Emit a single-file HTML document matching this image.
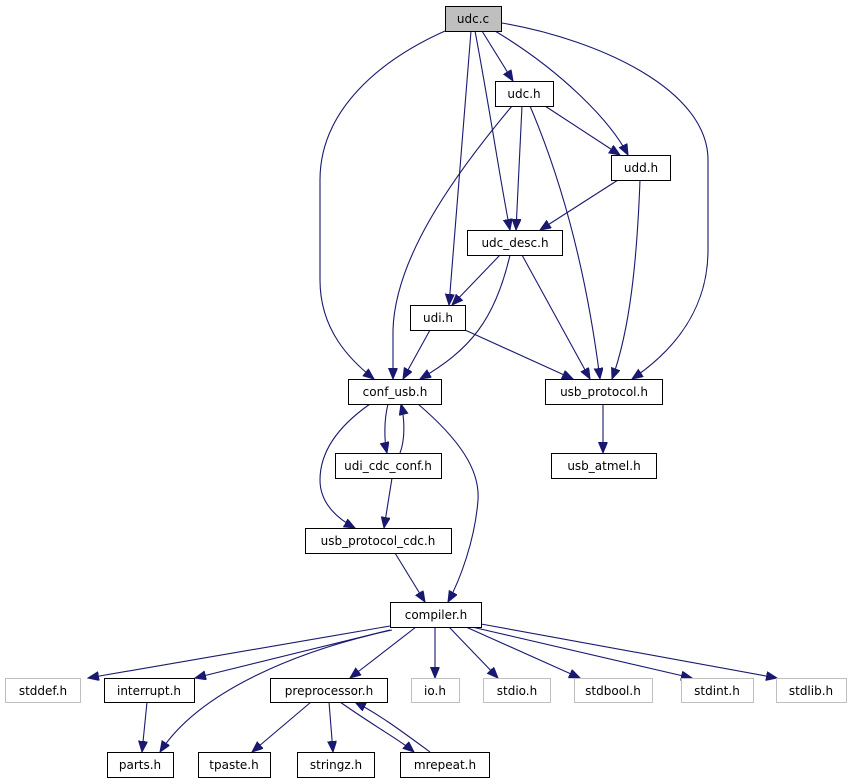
<!DOCTYPE html>
<html><head><meta charset="utf-8"><style>
html,body{margin:0;padding:0;background:#fff}
svg{display:block}
text{font-family:"DejaVu Sans","Liberation Sans",sans-serif;font-size:12px;text-anchor:middle}
.n{fill:#fff;stroke:#000;stroke-width:1}
.g{fill:#fff;stroke:#bfbfbf;stroke-width:1}
.e{fill:none;stroke:#191970;stroke-width:1.1;marker-end:url(#a)}
</style></head><body>
<svg width="851" height="784" viewBox="0 0 851 784" xmlns="http://www.w3.org/2000/svg">
<defs><marker id="a" markerUnits="userSpaceOnUse" markerWidth="12" markerHeight="10" refX="11" refY="4.5" orient="auto"><path d="M0,0 L11,4.5 L0,9 z" fill="#191970" stroke="#191970"/></marker></defs>
<g>
<path class="e" d="M445,31 C380,60 320,110 320,180 L320,280 C320,330 350,360 374,379"/>
<path class="e" d="M471,31 L449,305"/>
<path class="e" d="M475,31 C490,110 500,180 510,230"/>
<path class="e" d="M482,31 L513,81"/>
<path class="e" d="M495,31 C560,70 610,120 628,155"/>
<path class="e" d="M502,23 C600,40 708,90 708,160 L708,250 C708,320 660,360 632,379"/>
<path class="e" d="M512,106 C450,180 395,260 393,330 L393,379"/>
<path class="e" d="M522,106 L516,230"/>
<path class="e" d="M530,106 C570,200 590,300 600,379"/>
<path class="e" d="M545,106 L620,155"/>
<path class="e" d="M618,180 L540,230"/>
<path class="e" d="M640,180 C637,260 630,330 612,379"/>
<path class="e" d="M500,255 L452,305"/>
<path class="e" d="M510,255 C495,320 470,350 420,379"/>
<path class="e" d="M522,255 L590,379"/>
<path class="e" d="M430,330 L403,379"/>
<path class="e" d="M465,330 L573,379"/>
<path class="e" d="M603,404 L603,453"/>
<path class="e" d="M388,404 C384,420 384,440 387,453"/>
<path class="e" d="M400,453 C405,440 405,420 401,404"/>
<path class="e" d="M370,404 C340,425 320,450 320,480 C320,505 340,520 355,528"/>
<path class="e" d="M392,478 L384,528"/>
<path class="e" d="M418,404 C460,440 480,470 478,500 C475,540 460,580 448,602"/>
<path class="e" d="M395,553 L425,602"/>
<path class="e" d="M390,626 L88,678"/>
<path class="e" d="M390,630 L195,678"/>
<path class="e" d="M392,630 C300,650 200,690 160,752"/>
<path class="e" d="M416,627 L350,678"/>
<path class="e" d="M435,627 L435,678"/>
<path class="e" d="M449,627 L498,678"/>
<path class="e" d="M466,627 L580,678"/>
<path class="e" d="M472,627 L692,678"/>
<path class="e" d="M481,624 L777,678"/>
<path class="e" d="M147,702 L142,752"/>
<path class="e" d="M311,702 L252,752"/>
<path class="e" d="M329,702 L333,752"/>
<path class="e" d="M340,702 C380,730 400,740 414,752"/>
<path class="e" d="M430,752 C400,730 380,715 355,702"/>
</g>
<g>
<rect x="445.5" y="6.5" width="56" height="25" fill="#bfbfbf" stroke="#000"/><text x="473" y="23">udc.c</text>
<rect class="n" x="495.5" y="81.5" width="58" height="25"/><text x="524" y="98">udc.h</text>
<rect class="n" x="611.5" y="155.5" width="59" height="25"/><text x="641" y="172">udd.h</text>
<rect class="n" x="467.5" y="230.5" width="95" height="25"/><text x="515" y="247">udc_desc.h</text>
<rect class="n" x="410.5" y="305.5" width="55" height="25"/><text x="438" y="322">udi.h</text>
<rect class="n" x="348.5" y="379.5" width="93" height="25"/><text x="395" y="396">conf_usb.h</text>
<rect class="n" x="545.5" y="379.5" width="117" height="25"/><text x="604" y="396">usb_protocol.h</text>
<rect class="n" x="551.5" y="453.5" width="105" height="25"/><text x="604" y="470">usb_atmel.h</text>
<rect class="n" x="335.5" y="453.5" width="106" height="25"/><text x="388" y="470">udi_cdc_conf.h</text>
<rect class="n" x="305.5" y="528.5" width="146" height="25"/><text x="378" y="545">usb_protocol_cdc.h</text>
<rect class="n" x="390.5" y="602.5" width="91" height="25"/><text x="436" y="619">compiler.h</text>
<rect class="g" x="5.5" y="678.5" width="75" height="24"/><text x="43" y="695">stddef.h</text>
<rect class="n" x="104.5" y="678.5" width="90" height="24"/><text x="149" y="695">interrupt.h</text>
<rect class="n" x="270.5" y="678.5" width="117" height="24"/><text x="329" y="695">preprocessor.h</text>
<rect class="g" x="411.5" y="678.5" width="48" height="24"/><text x="435" y="695">io.h</text>
<rect class="g" x="483.5" y="678.5" width="67" height="24"/><text x="517" y="695">stdio.h</text>
<rect class="g" x="574.5" y="678.5" width="78" height="24"/><text x="613" y="695">stdbool.h</text>
<rect class="g" x="681.5" y="678.5" width="72" height="24"/><text x="717" y="695">stdint.h</text>
<rect class="g" x="776.5" y="678.5" width="70" height="24"/><text x="811" y="695">stdlib.h</text>
<rect class="n" x="107.5" y="752.5" width="66" height="25"/><text x="140" y="769">parts.h</text>
<rect class="n" x="198.5" y="752.5" width="72" height="25"/><text x="234" y="769">tpaste.h</text>
<rect class="n" x="297.5" y="752.5" width="77" height="25"/><text x="336" y="769">stringz.h</text>
<rect class="n" x="400.5" y="752.5" width="89" height="25"/><text x="445" y="769">mrepeat.h</text>
</g>
</svg>
</body></html>
